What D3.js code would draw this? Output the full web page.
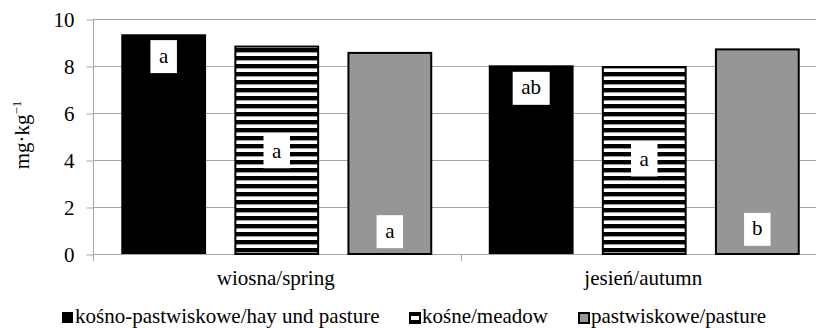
<!DOCTYPE html>
<html>
<head>
<meta charset="utf-8">
<script src="https://cdn.jsdelivr.net/npm/d3@7"></script>
<style>
  body { margin: 0; background: #fff; }
</style>
</head>
<body>
<div id="chart"></div>
<script>
// data
var seasons = ["wiosna/spring", "jesień/autumn"];
var series = ["kośno-pastwiskowe/hay und pasture", "kośne/meadow", "pastwiskowe/pasture"];
var springValues = [9.35, 8.87, 8.6];
var autumnValues = [8.03, 8.0, 8.75];
var springLetters = ["a", "a", "a"];
var autumnLetters = ["ab", "a", "b"];
// where the letter boxes sit, in axis units
var springLetterAt = [8.4, 4.35, 0.95];
var autumnLetterAt = [7.05, 4.0, 1.05];
var yTicks = [0, 2, 4, 6, 8, 10];

var width = 816, height = 328;
var plotLeft = 93, plotRight = 828, plotTop = 19, plotBottom = 254;
var serif = "Liberation Serif";
var fs = 21;

var svg = d3.select("#chart").append("svg")
  .attr("width", width).attr("height", height);

var defs = svg.append("defs");
var pat = defs.append("pattern").attr("id", "stripes")
  .attr("patternUnits", "userSpaceOnUse")
  .attr("width", 8).attr("height", 8);
pat.append("rect").attr("width", 8).attr("height", 8).attr("fill", "#fff");
pat.append("rect").attr("y", 0).attr("width", 8).attr("height", 4.4).attr("fill", "#000");

var y = d3.scaleLinear().domain([0, 10]).range([plotBottom, plotTop]);
var x0 = d3.scaleBand().domain(seasons).range([plotLeft, plotRight]);
var x1 = d3.scaleBand().domain(series).range([0, x0.bandwidth()])
  .paddingInner(0.25).paddingOuter(0.25);

var fills = ["#000", "url(#stripes)", "#969696"];
var strokes = ["none", "#000", "#000"];

// gridlines
svg.append("g").selectAll("line").data(yTicks.filter(d => d > 0)).enter()
  .append("line")
  .attr("x1", plotLeft).attr("x2", width)
  .attr("y1", d => y(d) + 0.5).attr("y2", d => y(d) + 0.5)
  .attr("stroke", "#a6a6a6").attr("stroke-width", 1);

// y axis
var yAxis = svg.append("g").attr("transform", "translate(" + (plotLeft + 0.5) + ",0.5)")
  .call(d3.axisLeft(y).tickValues(yTicks).tickSize(7).tickPadding(12));
yAxis.select(".domain").attr("stroke", "#a6a6a6").attr("d", "M0," + plotTop + "V" + plotBottom);
yAxis.selectAll(".tick line").attr("stroke", "#a6a6a6");
yAxis.selectAll(".tick text").attr("fill", "#000");

// x axis line and category ticks
svg.append("line").attr("x1", plotLeft).attr("x2", width)
  .attr("y1", plotBottom + 0.5).attr("y2", plotBottom + 0.5)
  .attr("stroke", "#a6a6a6");
svg.append("g").selectAll("line").data(seasons).enter().append("line")
  .attr("x1", d => Math.round(x0(d)) + 0.5).attr("x2", d => Math.round(x0(d)) + 0.5)
  .attr("y1", plotBottom).attr("y2", plotBottom + 7)
  .attr("stroke", "#a6a6a6");

svg.append("g").selectAll("text").data(seasons).enter().append("text")
  .attr("x", d => x0(d) + x0.bandwidth() / 2 - 1)
  .attr("y", 285)
  .attr("text-anchor", "middle")
  .text(d => d);

// bars
var rows = [
  { season: seasons[0], values: springValues, letters: springLetters, at: springLetterAt },
  { season: seasons[1], values: autumnValues, letters: autumnLetters, at: autumnLetterAt }
];

var groups = svg.append("g").selectAll("g").data(rows).enter().append("g")
  .attr("transform", d => "translate(" + x0(d.season) + ",0)");

groups.selectAll("rect.bar")
  .data(d => d.values.map((v, i) => ({ s: series[i], v: v, i: i })))
  .enter().append("rect").attr("class", "bar")
  .attr("x", d => x1(d.s) + (d.i ? 1 : 0))
  .attr("y", d => y(d.v) + (d.i ? 1 : 0))
  .attr("width", d => x1.bandwidth() - (d.i ? 2 : 0))
  .attr("height", d => y(0) - y(d.v) - (d.i ? 1 : 0))
  .attr("fill", d => fills[d.i])
  .attr("stroke", d => strokes[d.i])
  .attr("stroke-width", 2);

// letter boxes
var lab = groups.selectAll("g.lab")
  .data(d => d.letters.map((l, i) => ({ s: series[i], l: l, at: d.at[i] })))
  .enter().append("g").attr("class", "lab")
  .attr("transform", d => "translate(" + (x1(d.s) + x1.bandwidth() / 2) + "," + y(d.at) + ")");
lab.append("rect")
  .attr("x", d => -(d.l.length * 10.5 + 16) / 2)
  .attr("y", -16.5)
  .attr("width", d => d.l.length * 10.5 + 16)
  .attr("height", 33)
  .attr("fill", "#fff");
lab.append("text")
  .attr("text-anchor", "middle")
  .attr("y", 6)
  .text(d => d.l);

// y axis title
svg.append("text")
  .attr("transform", "translate(29,135) rotate(-90)")
  .attr("text-anchor", "middle")
  .html("mg·kg<tspan dy='-8' style='font-size:13px'>−1</tspan>");

// legend
var legendX = [62, 409, 578];
var leg = svg.append("g").selectAll("g").data(series).enter().append("g")
  .attr("transform", (d, i) => "translate(" + legendX[i] + ",312)");
leg.append("rect")
  .attr("x", (d, i) => i ? 1 : 0).attr("y", (d, i) => i ? 1 : 0)
  .attr("width", (d, i) => i ? 10 : 11).attr("height", (d, i) => i ? 10 : 11)
  .attr("fill", (d, i) => i === 1 ? "#fff" : fills[i])
  .attr("stroke", (d, i) => strokes[i]).attr("stroke-width", 2);
leg.filter((d, i) => i === 1).append("rect")
  .attr("x", 1).attr("y", 1).attr("width", 10).attr("height", 3).attr("fill", "#000");
leg.filter((d, i) => i === 1).append("rect")
  .attr("x", 1).attr("y", 8).attr("width", 10).attr("height", 3).attr("fill", "#000");
leg.append("text")
  .attr("x", 13).attr("y", 11)
  .text(d => d);

// one font for every text
svg.selectAll("text")
  .style("font-family", serif)
  .style("font-size", fs + "px")
  .attr("fill", "#000");
</script>
</body>
</html>
